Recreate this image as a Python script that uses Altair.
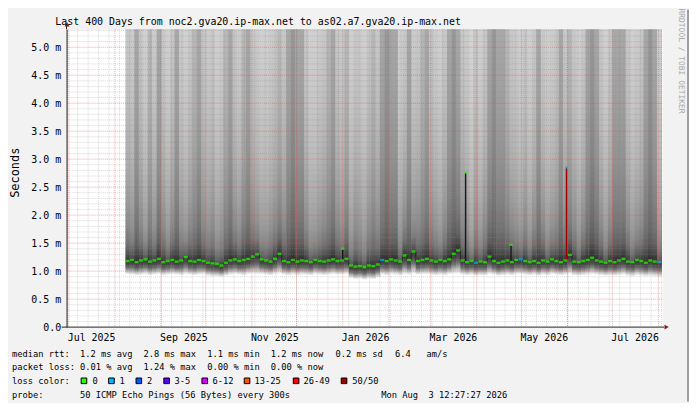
import altair as alt
import pandas as pd

# ------------------------------------------------------------------ data
range_start = dict(year=2025, month=6, date=29, hours=12, minutes=27, seconds=27)
range_end = dict(year=2026, month=8, date=3, hours=12, minutes=27, seconds=27)
y_max = 5.32

first_bin = "2025-08-08"
bin_days = 3

median_ms = [
    1.18, 1.20, 1.16, 1.19, 1.21, 1.17, 1.19, 1.22, 1.16, 1.18,
    1.20, 1.17, 1.19, 1.25, 1.18, 1.17, 1.20, 1.18, 1.15, 1.14,
    1.13, 1.10, 1.15, 1.19, 1.21, 1.18, 1.20, 1.22, 1.26, 1.30,
    1.21, 1.19, 1.17, 1.22, 1.31, 1.18, 1.16, 1.20, 1.17, 1.19,
    1.18, 1.16, 1.20, 1.18, 1.17, 1.19, 1.21, 1.18, 1.19, 1.22,
    1.10, 1.08, 1.09, 1.07, 1.10, 1.09, 1.12, 1.20, 1.18, 1.21,
    1.19, 1.17, 1.28, 1.20, 1.35, 1.18, 1.20, 1.22, 1.19, 1.17,
    1.20, 1.18, 1.21, 1.31, 1.37, 1.19, 1.16, 1.18, 1.15, 1.17,
    1.16, 1.26, 1.18, 1.15, 1.17, 1.19, 1.16, 1.20, 1.21, 1.18,
    1.16, 1.18, 1.15, 1.19, 1.17, 1.21, 1.18, 1.16, 1.19, 1.29,
    1.17, 1.16, 1.18, 1.20, 1.24, 1.19, 1.17, 1.15, 1.18, 1.16,
    1.19, 1.22, 1.17, 1.16, 1.20, 1.18, 1.15, 1.19, 1.17, 1.16,
]
low_ms = [
    0.95, 0.94, 0.93, 0.94, 0.95, 0.93, 0.94, 0.95, 0.93, 0.94,
    0.95, 0.94, 0.93, 0.95, 0.94, 0.93, 0.94, 0.95, 0.92, 0.91,
    0.91, 0.90, 0.92, 0.94, 0.95, 0.94, 0.93, 0.95, 0.96, 0.95,
    0.95, 0.94, 0.93, 0.95, 0.96, 0.94, 0.93, 0.94, 0.93, 0.94,
    0.94, 0.93, 0.95, 0.94, 0.93, 0.94, 0.95, 0.94, 0.94, 0.95,
    0.88, 0.86, 0.87, 0.85, 0.87, 0.86, 0.89, 0.94, 0.93, 0.95,
    0.94, 0.93, 0.95, 0.94, 0.96, 0.94, 0.95, 0.95, 0.94, 0.93,
    0.94, 0.93, 0.95, 0.96, 0.96, 0.94, 0.93, 0.94, 0.92, 0.93,
    0.93, 0.95, 0.94, 0.92, 0.93, 0.94, 0.93, 0.95, 0.95, 0.94,
    0.93, 0.94, 0.92, 0.94, 0.93, 0.95, 0.94, 0.93, 0.94, 0.95,
    0.93, 0.92, 0.93, 0.94, 0.95, 0.94, 0.93, 0.92, 0.93, 0.92,
    0.93, 0.94, 0.92, 0.91, 0.93, 0.92, 0.91, 0.92, 0.91, 0.90,
]
# smoke streak brightness (negative = darker, positive = lighter)
shade = [
    0, 1, -2, 0, 2, -1, 1, -2, 0, 2,
    0, -2, 1, 2, 0, -1, -2, 0, 1, 0,
    2, 1, -1, -2, 0, 1, -1, -2, 0, 1,
    2, 2, 1, 0, -1, 0, -2, -3, -2, -2,
    0, 2, 2, 1, 0, -1, -2, 0, 1, -1,
    2, 0, 1, 2, 0, -1, 0, -2, -3, -2,
    -2, 2, 0, -2, 1, 0, -1, -2, 0, 1,
    2, 0, -2, -3, -2, 0, 1, 3, 0, 2,
    0, -2, -3, -2, -2, -1, 0, 1, 2, 0,
    2, 0, -2, 0, 2, 1, 0, -2, 0, -1,
    0, 2, 0, -2, -3, -2, 0, 2, 0, -2,
    -2, -2, 0, 2, 1, 0, -2, -3, -2, 2,
]
blue_bins = [57, 78, 88, 119]

spike_dates = ["2026-01-01T00:00:00", "2026-03-24T12:00:00", "2026-04-24T00:00:00", "2026-05-31T06:00:00"]
spike_base = [1.20, 1.16, 1.19, 1.19]
spike_top = [1.40, 2.76, 1.47, 2.85]
spike_loss = ["0", "0", "0", "1"]
spike_kind = ["dark", "dark", "dark", "50/50"]

loss_labels = ["0", "1", "2", "3-5", "6-12", "13-25", "26-49", "50/50"]
loss_colors = ["#26ff00", "#00b8ff", "#0059ff", "#5e00ff", "#dd00ff", "#ff5500", "#ff0000", "#a10000"]

label_months = [(2025, 7), (2025, 9), (2025, 11), (2026, 1), (2026, 3), (2026, 5), (2026, 7)]
y_label_values = [0.0, 0.5, 1.0, 1.5, 2.0, 2.5, 3.0, 3.5, 4.0, 4.5, 5.0]
minor_y = [round(k * 0.1, 1) for k in range(1, 54) if k % 5 != 0]
major_y = y_label_values[1:]
week_lines = pd.date_range("2025-06-30", "2026-08-03", freq="7D")
month_lines = pd.date_range("2025-07-01", "2026-08-01", freq="MS")

title_text = "Last 400 Days from noc2.gva20.ip-max.net to as02.a7.gva20.ip-max.net"
y_title = "Seconds"
watermark = "RRDTOOL / TOBI OETIKER"
rtt_texts = ["median rtt:", "1.2 ms avg", "2.8 ms max", "1.1 ms min", "1.2 ms now", "0.2 ms sd", "6.4", "am/s"]
loss_texts = ["packet loss:", "0.01 % avg", "1.24 % max", "0.00 % min", "0.00 % now"]
loss_title = "loss color:"
probe_texts = ["probe:", "50 ICMP Echo Pings (56 Bytes) every 300s"]
timestamp = "Mon Aug \u00a03 12:27:27 2026"

# ------------------------------------------------------------------ layout / style
W, H = 600, 300
MONO = "DejaVu Sans Mono"
row_y = [330, 343.5, 357.5, 371.5]
rtt_x = [-55, 13.5, 77.5, 141.8, 205.8, 270.8, 330.8, 362.5]
loss_x = [-55, 13.5, 77.5, 141.8, 205.8]
probe_x = [-55, 13.5]
box_x = [17.5, 45.2, 72.8, 100.8, 139.2, 181.8, 231.2, 279.5]
box_label_x = [26, 53.4, 81, 108.7, 147, 189.4, 238.7, 287.7]

bins = pd.date_range(first_bin, periods=len(median_ms), freq=f"{bin_days}D")
smoke = pd.DataFrame({
    "start": bins,
    "end": bins + pd.Timedelta(days=bin_days),
    "median": median_ms,
    "low": low_ms,
    "shade": shade,
    "top": [y_max] * len(median_ms),
})
ticks = pd.DataFrame({
    "t": bins + pd.Timedelta(hours=bin_days * 12),
    "median": median_ms,
    "loss": ["1" if i in blue_bins else "0" for i in range(len(median_ms))],
})
spikes = pd.DataFrame({
    "t": pd.to_datetime(spike_dates),
    "base": spike_base,
    "top": spike_top,
    "loss": spike_loss,
    "kind": spike_kind,
})
one = pd.DataFrame({"k": [0]})

x_scale = alt.Scale(domain=[alt.DateTime(**range_start), alt.DateTime(**range_end)])
y_scale = alt.Scale(domain=[0, y_max], nice=False, zero=True)
loss_scale = alt.Scale(domain=loss_labels, range=loss_colors)

x_axis = alt.Axis(
    values=[alt.DateTime(year=y, month=m, date=16) for y, m in label_months],
    format="%b %Y", labelFont=MONO, labelFontSize=10, labelColor="black",
    ticks=False, domain=False, grid=False, labelPadding=13,
    labelBaseline="alphabetic", labelOverlap=False, labelFlush=False,
    title=None, zindex=1,
)
y_axis = alt.Axis(
    values=y_label_values,
    labelExpr="datum.value == 0 ? '0.0' : format(datum.value, '.1f') + ' m'",
    labelFont=MONO, labelFontSize=10, labelColor="black",
    ticks=False, domain=True, domainColor="#1f1f1f", grid=False,
    labelPadding=6, labelFlush=False, title=None, zindex=1,
)


def X(field):
    return alt.X(field, type="temporal", scale=x_scale, axis=x_axis)


def Y(field):
    return alt.Y(field, type="quantitative", scale=y_scale, axis=y_axis)


upper_grad = alt.Gradient(
    gradient="linear", x1=0, x2=0, y1=0, y2=1,
    stops=[
        alt.GradientStop(offset=0.0, color="#c8c8c8"),
        alt.GradientStop(offset=0.32, color="#bcbcbc"),
        alt.GradientStop(offset=0.56, color="#aeaeae"),
        alt.GradientStop(offset=0.73, color="#9c9c9c"),
        alt.GradientStop(offset=0.85, color="#8a8a8a"),
        alt.GradientStop(offset=0.927, color="#737373"),
        alt.GradientStop(offset=0.964, color="#585858"),
        alt.GradientStop(offset=0.988, color="#404040"),
        alt.GradientStop(offset=1.0, color="#363636"),
    ],
)
lower_grad = alt.Gradient(
    gradient="linear", x1=0, x2=0, y1=0, y2=1,
    stops=[
        alt.GradientStop(offset=0.0, color="#363636"),
        alt.GradientStop(offset=0.3, color="#4c4c4c"),
        alt.GradientStop(offset=0.55, color="#747474"),
        alt.GradientStop(offset=0.75, color="#b0b0b0"),
        alt.GradientStop(offset=0.9, color="#dadada"),
        alt.GradientStop(offset=1.0, color="#f0f0f0"),
    ],
)

layers = []

# smoke
layers.append(alt.Chart(smoke).mark_rect(fill=upper_grad, x2Offset=0.6).encode(
    x=X("start"), x2="end", y=Y("median"), y2="top"))
layers.append(alt.Chart(smoke).mark_rect(fill=lower_grad, x2Offset=0.6).encode(
    x=X("start"), x2="end", y=Y("low"), y2="median"))
layers.append(alt.Chart(smoke).transform_calculate(op="abs(datum.shade) * 0.08").mark_rect().encode(
    x=X("start"), x2="end", y=Y("median"), y2="top",
    color=alt.when(alt.datum.shade > 0).then(alt.value("white")).otherwise(alt.value("black")),
    opacity=alt.Opacity("op:Q", scale=None, legend=None)))

# grid
layers.append(alt.Chart(pd.DataFrame({"v": minor_y})).mark_rule(
    color="#8f8f8f", opacity=0.35, strokeDash=[1, 1], strokeWidth=1).encode(y=Y("v")))
layers.append(alt.Chart(pd.DataFrame({"t": week_lines})).mark_rule(
    color="#8f8f8f", opacity=0.35, strokeDash=[1, 1], strokeWidth=1).encode(x=X("t")))
layers.append(alt.Chart(pd.DataFrame({"v": major_y})).mark_rule(
    color="#de4f4f", opacity=0.5, strokeDash=[1, 1], strokeWidth=1).encode(y=Y("v")))
layers.append(alt.Chart(pd.DataFrame({"t": month_lines})).mark_rule(
    color="#de4f4f", opacity=0.5, strokeDash=[1, 1], strokeWidth=1).encode(x=X("t")))

# median line
layers.append(alt.Chart(ticks).mark_line(interpolate="step", color="#262626", strokeWidth=1).encode(
    x=X("t"), y=Y("median")))
layers.append(alt.Chart(spikes).transform_filter(alt.datum.kind == "dark").mark_rule(
    color="#1a1a1a", strokeWidth=1.5).encode(x=X("t"), y=Y("base"), y2="top"))
layers.append(alt.Chart(spikes).transform_filter(alt.datum.kind != "dark").mark_rule(
    strokeWidth=1.5).encode(x=X("t"), y=Y("base"), y2="top",
                            color=alt.Color("kind:N", scale=loss_scale, legend=None)))
layers.append(alt.Chart(ticks).mark_tick(orient="horizontal", size=4.2, thickness=2.4).encode(
    x=X("t"), y=Y("median"), color=alt.Color("loss:N", scale=loss_scale, legend=None)))
layers.append(alt.Chart(spikes).mark_tick(orient="horizontal", size=3, thickness=2.4).encode(
    x=X("t"), y=Y("top"), color=alt.Color("loss:N", scale=loss_scale, legend=None)))

# axis line + arrows
layers.append(alt.Chart(one).mark_rule(color="#1f1f1f").encode(
    x=alt.value(-5), x2=alt.value(602), y=alt.value(H)))
layers.append(alt.Chart(one).mark_rule(color="#1f1f1f").encode(
    x=alt.value(0), y=alt.value(-4), y2=alt.value(0)))
layers.append(alt.Chart(one).mark_point(shape="triangle-right", filled=True, color="#801f1f", size=25, opacity=1).encode(
    x=alt.value(604.5), y=alt.value(H)))
layers.append(alt.Chart(one).mark_point(shape="triangle-up", filled=True, color="#801f1f", size=25, opacity=1).encode(
    x=alt.value(0.5), y=alt.value(-5)))

# right frame shade
layers.append(alt.Chart(one).mark_rect(color="#9e9e9e").encode(
    x=alt.value(625), x2=alt.value(627), y=alt.value(-20), y2=alt.value(375)))


def text(s, x, y, size=8.8, align="left", baseline="alphabetic", angle=0, color="black"):
    return alt.Chart(one).mark_text(
        font=MONO, fontSize=size, align=align, baseline=baseline, angle=angle, color=color
    ).encode(x=alt.value(x), y=alt.value(y), text=alt.value(s))


layers.append(text(title_text, -11.3, -4, size=10))
layers.append(text(y_title, -51.5, 144.5, size=12, align="center", baseline="middle", angle=270))
layers.append(text(watermark, 618.5, 32, size=8, align="center", baseline="middle", angle=90, color="#a8a8a8"))

for s, x in zip(rtt_texts, rtt_x):
    layers.append(text(s, x, row_y[0]))
for s, x in zip(loss_texts, loss_x):
    layers.append(text(s, x, row_y[1]))
layers.append(text(loss_title, -55, row_y[2]))
for lab, col, bx, lx in zip(loss_labels, loss_colors, box_x, box_label_x):
    layers.append(alt.Chart(one).mark_square(size=32, filled=True, color=col, stroke="black",
                                             strokeWidth=1, opacity=1).encode(
        x=alt.value(bx), y=alt.value(row_y[2] - 3.4)))
    layers.append(text(lab, lx, row_y[2]))
for s, x in zip(probe_texts, probe_x):
    layers.append(text(s, x, row_y[3]))
layers.append(text(timestamp, 444, row_y[3], align="right"))

chart = alt.layer(*layers).properties(
    width=W, height=H,
    autosize=alt.AutoSizeParams(type="none"),
    padding={"left": 59, "top": 20, "right": 27, "bottom": 75},
    background="#f2f2f2",
).configure_view(fill="white", stroke="transparent")

chart.save("out.html", embed_options={"renderer": "svg", "actions": False})
